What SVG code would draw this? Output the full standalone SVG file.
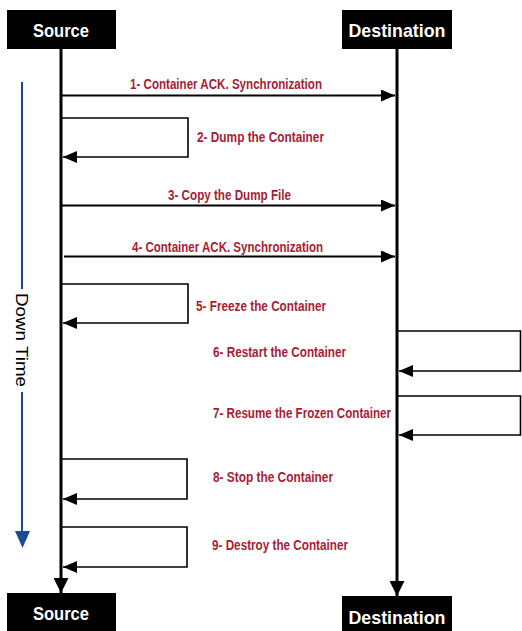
<svg xmlns="http://www.w3.org/2000/svg" width="522" height="631" viewBox="0 0 522 631">
<defs>
<marker id="ah" markerUnits="userSpaceOnUse" markerWidth="14" markerHeight="12" refX="14" refY="6" orient="auto"><path d="M0,0 L14,6 L0,12 z" fill="#000"/></marker>
<marker id="ahl" markerUnits="userSpaceOnUse" markerWidth="16" markerHeight="15" refX="15" refY="7.5" orient="auto"><path d="M0,0 L15,7.5 L0,15 z" fill="#000"/></marker>
</defs>
<style>
.hdr{fill:#000}
.ht{fill:#fff;font-family:"Liberation Sans",Arial,sans-serif;font-weight:bold;font-size:19px;text-anchor:middle}
.lbl{fill:#a81c34;font-family:"Liberation Sans",Arial,sans-serif;font-weight:bold;font-size:14px}
.life{stroke:#000;stroke-width:3;fill:none}
.msg{stroke:#000;stroke-width:2;fill:none}
.loop{stroke:#000;stroke-width:1.6;fill:none}
</style>
<rect width="522" height="631" fill="#fff"/>
<g id="source-top"><rect class="hdr" x="7" y="10" width="109" height="39"/><text class="ht" x="61" y="37" textLength="56" lengthAdjust="spacingAndGlyphs">Source</text></g>
<g id="destination-top"><rect class="hdr" x="342" y="10" width="110" height="39"/><text class="ht" x="397" y="37" textLength="97" lengthAdjust="spacingAndGlyphs">Destination</text></g>
<g id="source-bottom"><rect class="hdr" x="7" y="593" width="109" height="38"/><text class="ht" x="61" y="620" textLength="56" lengthAdjust="spacingAndGlyphs">Source</text></g>
<g id="destination-bottom"><rect class="hdr" x="342" y="596" width="110" height="35"/><text class="ht" x="397" y="624" textLength="97" lengthAdjust="spacingAndGlyphs">Destination</text></g>
<g id="downtime">
<line x1="22" y1="82" x2="22" y2="289" stroke="#1c4a99" stroke-width="2"/>
<line x1="22" y1="392" x2="22" y2="533" stroke="#1c4a99" stroke-width="2"/>
<polygon points="15,531 30,531 22.5,548" fill="#1c4a99"/>
<text transform="translate(16,293) rotate(90)" font-family="'Liberation Sans',Arial,sans-serif" font-size="16" fill="#000" textLength="94" lengthAdjust="spacingAndGlyphs">Down Time</text>
</g>
<g id="connectors">
<line class="life" x1="61" y1="49" x2="61" y2="593" marker-end="url(#ahl)"/>
<line class="life" x1="397" y1="49" x2="397" y2="596" marker-end="url(#ahl)"/>
<line class="msg" x1="61" y1="95.5" x2="395" y2="95.5" marker-end="url(#ah)"/>
<polyline class="loop" points="61,118 188,118 188,157 63,157" marker-end="url(#ah)"/>
<line class="msg" x1="61" y1="205.5" x2="395" y2="205.5" marker-end="url(#ah)"/>
<line class="msg" x1="64" y1="256.5" x2="395" y2="256.5" marker-end="url(#ah)"/>
<polyline class="loop" points="61,284 188,284 188,323 63,323" marker-end="url(#ah)"/>
<polyline class="loop" points="397,331 520.5,331 520.5,371 399,371" marker-end="url(#ah)"/>
<polyline class="loop" points="397,396 520.5,396 520.5,435 399,435" marker-end="url(#ah)"/>
<polyline class="loop" points="61,459 187,459 187,499 63,499" marker-end="url(#ah)"/>
<polyline class="loop" points="61,527 187,527 187,567 63,567" marker-end="url(#ah)"/>
</g>
<g id="labels">
<text class="lbl" x="130" y="89" textLength="192" lengthAdjust="spacingAndGlyphs">1- Container ACK. Synchronization</text>
<text class="lbl" x="197" y="142" textLength="127" lengthAdjust="spacingAndGlyphs">2- Dump the Container</text>
<text class="lbl" x="168" y="200" textLength="123" lengthAdjust="spacingAndGlyphs">3- Copy the Dump File</text>
<text class="lbl" x="132" y="251.5" textLength="191" lengthAdjust="spacingAndGlyphs">4- Container ACK. Synchronization</text>
<text class="lbl" x="196" y="310.5" textLength="130" lengthAdjust="spacingAndGlyphs">5- Freeze the Container</text>
<text class="lbl" x="213" y="357" textLength="133" lengthAdjust="spacingAndGlyphs">6- Restart the Container</text>
<text class="lbl" x="213" y="417.5" textLength="178" lengthAdjust="spacingAndGlyphs">7- Resume the Frozen Container</text>
<text class="lbl" x="213" y="481.5" textLength="120" lengthAdjust="spacingAndGlyphs">8- Stop the Container</text>
<text class="lbl" x="212" y="550" textLength="136" lengthAdjust="spacingAndGlyphs">9- Destroy the Container</text>
</g>
</svg>
